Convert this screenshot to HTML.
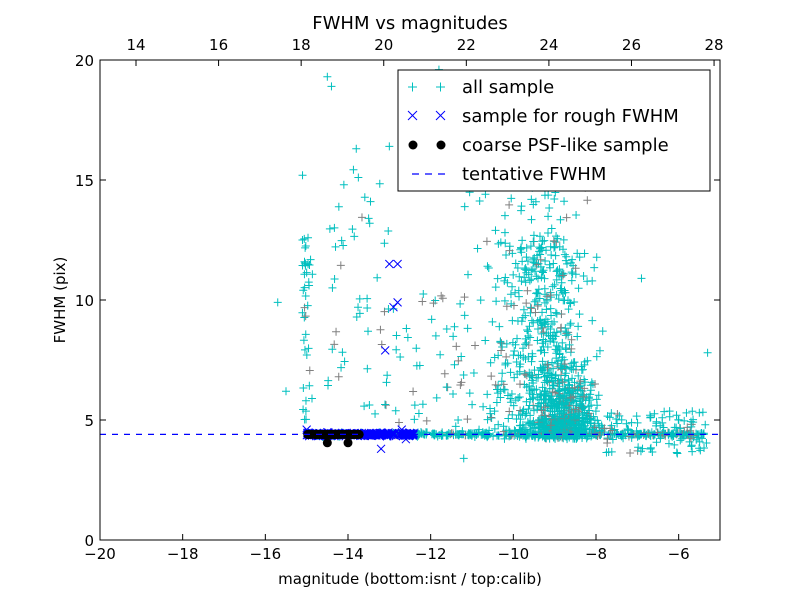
<!DOCTYPE html>
<html><head><style>
body{margin:0;background:#fff;}
svg{font-family:"DejaVu Sans","Liberation Sans",sans-serif;}
</style></head><body>
<svg id="s" width="800" height="600" xmlns="http://www.w3.org/2000/svg">
<rect width="800" height="600" fill="#fff"/>
<g id="pts"></g>
<line x1="100" y1="434.4" x2="720" y2="434.4" stroke="#0000ff" stroke-width="1.2" stroke-dasharray="6,6"/>
<g id="ax"></g>
<rect x="100" y="60" width="620" height="480" fill="none" stroke="#000" stroke-width="1"/>
<text x="410" y="29" font-size="18" text-anchor="middle">FWHM vs magnitudes</text>
<text x="410" y="584" font-size="15" text-anchor="middle">magnitude (bottom:isnt / top:calib)</text>
<text x="65" y="300" font-size="15" text-anchor="middle" transform="rotate(-90 65 300)">FWHM (pix)</text>
<g>
<rect x="398" y="70" width="312" height="121" fill="#fff" stroke="#000"/>
<g stroke="#00bfbf" stroke-width="1"><path d="M408 87h9M412.5 82.5v9M436 87h9M440.5 82.5v9"/></g>
<g stroke="#0000ff" stroke-width="1"><path d="M408 111l9 9M417 111l-9 9M436 111l9 9M445 111l-9 9"/></g>
<circle cx="413" cy="145" r="4.5"/><circle cx="441" cy="145" r="4.5"/>
<path d="M412 174h7M425 174h7M438 174h7" stroke="#0000ff" stroke-width="1.2"/>
<g font-size="18"><text x="462" y="93">all sample</text><text x="462" y="122">sample for rough FWHM</text><text x="462" y="151">coarse PSF-like sample</text><text x="462" y="180">tentative FWHM</text></g>
</g>
</svg>
<script>
var seed=12345;function r(){seed=(seed*16807)%2147483647;return seed/2147483647;}
function g(){return (r()+r()+r()+r()-2)/1.15;}
function X(m){return 100+(m+20)*620/15;}
function Y(f){return 540-f*24;}
var out="";
function plus(m,f,c){var x=X(m),y=Y(f);if(x<100||x>720||y<60||y>540)return;out+='<path d="M'+(x-4)+' '+y+'h8M'+x+' '+(y-4)+'v8" stroke="'+c+'" stroke-width="1" fill="none"/>';}
function cross(m,f){var x=X(m),y=Y(f);out+='<path d="M'+(x-4)+' '+(y-4)+'l8 8M'+(x+4)+' '+(y-4)+'l-8 8" stroke="#0000ff" stroke-width="1" fill="none"/>';}
function col(){return r()<0.15?"#808080":"#00bfbf";}
var i;
for(i=0;i<500;i++){plus(-15+r()*9.6,4.4+g()*0.08,col());}
for(i=0;i<500;i++){var m=-8.7+g()*0.7,f=4.2+Math.abs(g())*3.2;if(r()<0.25)f=4.3+r()*0.8;plus(m,f,col());}
for(i=0;i<350;i++){var m=-9.2+g()*0.9,f=4.5+Math.pow(r(),1.3)*8;plus(m,f,col());}
for(i=0;i<300;i++){var m=-9.5+g()*1.6;var f=4.2+Math.pow(r(),1.5)*11;plus(m,f,col());}
for(i=0;i<100;i++){plus(-7.8+r()*2.5,3.6+r()*1.8,col());}
for(i=0;i<40;i++){plus(-15+g()*0.12,4.5+Math.pow(r(),0.8)*8.5,col());}
for(i=0;i<50;i++){plus(-14.6+r()*1.6,4.6+r()*11,col());}
for(i=0;i<40;i++){plus(-13+r()*2,4.5+r()*6,col());}
[[-14.5,19.3],[-14.4,18.9],[-13.8,16.3],[-13.0,16.4],[-15.1,15.2],[-14.1,14.8],[-15.7,9.9],[-15.5,6.2],[-11.2,3.4],[-6.9,10.9],[-5.3,7.8],[-5.5,5.3],[-11.8,19.6]].forEach(function(p){plus(p[0],p[1],"#00bfbf");});
for(i=0;i<250;i++){cross(-15+r()*2.6,4.4+g()*0.07);}
[[-13.0,11.5],[-12.8,11.5],[-12.9,9.7],[-12.8,9.9],[-13.1,7.9],[-13.2,3.8],[-15.0,4.6],[-12.6,4.2],[-12.7,4.6]].forEach(function(p){cross(p[0],p[1]);});
for(i=0;i<60;i++){var x=X(-15+r()*1.3),y=Y(4.4);out+='<circle cx="'+x+'" cy="'+y+'" r="4.5"/>';}
out+='<circle cx="'+X(-14.5)+'" cy="'+Y(4.05)+'" r="4.5"/><circle cx="'+X(-14)+'" cy="'+Y(4.05)+'" r="4.5"/>';
document.getElementById("pts").innerHTML=out;
var a="";
for(var v=-20;v<=-6;v+=2){var x=X(v);a+='<path d="M'+x+' 540v-6" stroke="#000"/><text x="'+x+'" y="559" font-size="15" text-anchor="middle">\u2212'+(-v)+'</text>';}
for(var t=14;t<=28;t+=2){var x=136+(t-14)*41.29;a+='<path d="M'+x+' 60v6" stroke="#000"/><text x="'+x+'" y="50" font-size="15" text-anchor="middle">'+t+'</text>';}
for(var f=0;f<=20;f+=5){var y=Y(f);a+='<path d="M100 '+y+'h6M720 '+y+'h-6" stroke="#000"/><text x="94" y="'+(y+6)+'" font-size="15" text-anchor="end">'+f+'</text>';}
document.getElementById("ax").innerHTML=a;
</script>
</body></html>
